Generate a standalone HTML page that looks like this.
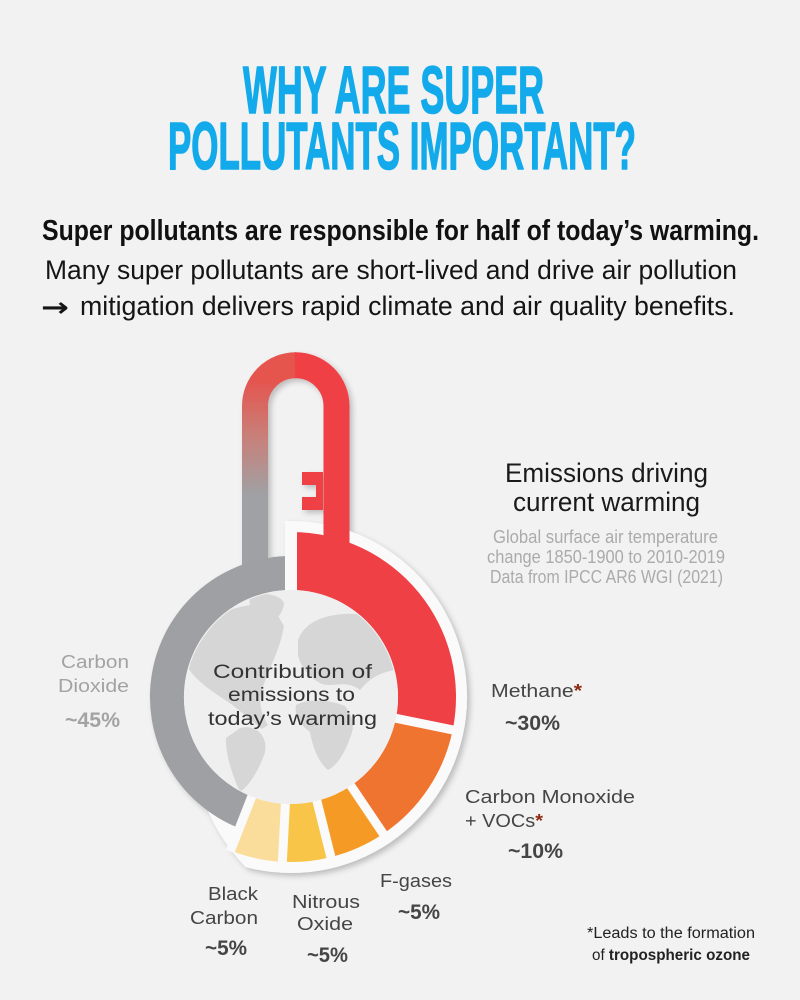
<!DOCTYPE html>
<html>
<head>
<meta charset="utf-8">
<style>
  html, body { margin: 0; padding: 0; background: #f2f2f2; }
  svg { display: block; }
  text { font-family: "Liberation Sans", "DejaVu Sans", sans-serif; }
</style>
</head>
<body>
<svg width="800" height="1000" viewBox="0 0 800 1000" xmlns="http://www.w3.org/2000/svg">
  <defs>
    <filter id="sh" x="-20%" y="-20%" width="150%" height="150%">
      <feDropShadow dx="3" dy="3" stdDeviation="3" flood-color="#000" flood-opacity="0.22"/>
    </filter>
    <linearGradient id="lg" gradientUnits="userSpaceOnUse" x1="0" y1="380" x2="0" y2="495">
      <stop offset="0" stop-color="#e5544e"/>
      <stop offset="0.5" stop-color="#c8807a"/>
      <stop offset="1" stop-color="#a0a1a4"/>
    </linearGradient>
    <clipPath id="inner"><circle cx="291" cy="697" r="106"/></clipPath>
  </defs>

  <rect x="0" y="0" width="800" height="1000" fill="#f2f2f2"/>

  <!-- Title -->
  <text x="243" y="113" font-size="67" font-weight="bold" fill="#12aaeb" stroke="#12aaeb" stroke-width="1.6" stroke-linejoin="round" textLength="301" lengthAdjust="spacingAndGlyphs">WHY ARE SUPER</text>
  <text x="168" y="169" font-size="67" font-weight="bold" fill="#12aaeb" stroke="#12aaeb" stroke-width="1.6" stroke-linejoin="round" textLength="468" lengthAdjust="spacingAndGlyphs">POLLUTANTS IMPORTANT?</text>

  <!-- Subtitles -->
  <text x="42" y="240" font-size="29" font-weight="bold" fill="#111" textLength="717" lengthAdjust="spacingAndGlyphs">Super pollutants are responsible for half of today’s warming.</text>
  <text x="45" y="279" font-size="27" fill="#151515" textLength="692" lengthAdjust="spacingAndGlyphs">Many super pollutants are short-lived and drive air pollution</text>
  <text x="41" y="316" font-size="26" font-weight="bold" fill="#151515" style="font-family:'DejaVu Sans',sans-serif" textLength="28" lengthAdjust="spacingAndGlyphs">→</text>
  <text x="80" y="315" font-size="27" fill="#151515" textLength="655" lengthAdjust="spacingAndGlyphs">mitigation delivers rapid climate and air quality benefits.</text>

  <!-- Thermometer underlay + tube (with shadow) -->
  <g filter="url(#sh)">
    <path d="M284.9,521.1 A176,176 0 1 1 245.5,867.0 Q220.9,840.8 208.1,811.1 L291,697 Z" fill="#fafafa"/>
    <circle cx="291" cy="697" r="141" fill="#fafafa"/>
    <path d="M255,570 L255,406 A40.75,40.75 0 0 1 295.75,365.25" fill="none" stroke="url(#lg)" stroke-width="26"/>
    <path d="M295,365.25 A40.75,40.75 0 0 1 336.5,406 L336.5,548" fill="none" stroke="#ee4045" stroke-width="26"/>
    <rect x="302" y="472" width="21" height="13" fill="#ee4045"/>
    <rect x="302" y="497" width="21" height="13" fill="#ee4045"/>
    <rect x="316" y="472" width="7" height="38" fill="#ee4045"/>
  </g>

  <!-- Segments -->
  <path d="M291,532 A165,165 0 0 1 452.7,729.9 L395.9,718.3 A107,107 0 0 0 291,590 Z" fill="#ee4045"/>
  <path d="M452.7,729.9 A165,165 0 0 1 383.3,833.8 L350.8,785.7 A107,107 0 0 0 395.9,718.3 Z" fill="#ef742f"/>
  <path d="M383.3,833.8 A165,165 0 0 1 330.9,857.1 L316.9,800.8 A107,107 0 0 0 350.8,785.7 Z" fill="#f59b25"/>
  <path d="M330.9,857.1 A165,165 0 0 1 282.4,861.8 L285.4,803.9 A107,107 0 0 0 316.9,800.8 Z" fill="#f8c548"/>
  <path d="M282.4,861.8 A165,165 0 0 1 230.5,850.5 L251.8,796.6 A107,107 0 0 0 285.4,803.9 Z" fill="#fbdd9b"/>
  <path d="M239.3,828.2 A141,141 0 0 1 291,556 L291,590 A107,107 0 0 0 251.8,796.6 Z" fill="#9fa0a3"/>

  <!-- Gaps -->
  <g stroke="#fafafa" stroke-linecap="butt">
    <line x1="291" y1="592" x2="291" y2="521.5" stroke-width="12"/>
    <line x1="393.9" y1="717.9" x2="459.5" y2="731.3" stroke-width="9"/>
    <line x1="349.7" y1="784.0" x2="387.2" y2="839.6" stroke-width="9"/>
    <line x1="316.4" y1="798.9" x2="332.6" y2="863.9" stroke-width="9"/>
    <line x1="285.5" y1="801.9" x2="282.0" y2="868.8" stroke-width="9"/>
    <line x1="252.5" y1="794.7" x2="230.2" y2="851.5" stroke-width="9"/>
  </g>

  <!-- Inner circle with world map -->
  <circle cx="291" cy="697" r="107" fill="#efefef"/>
  <g clip-path="url(#inner)" fill="#d6d6d7">
    <path d="M190,640 C205,615 245,600 272,606 L284,626 C280,650 270,665 262,690 C258,705 262,715 268,725 L262,729 C245,716 235,706 225,700 C210,690 195,680 186,665 Z"/>
    <path d="M250,596 C262,592 280,594 284,603 C283,616 272,624 262,624 C254,618 248,608 250,596 Z"/>
    <path d="M240,728 C255,724 268,735 265,752 C260,768 250,785 240,792 C232,775 225,752 226,738 Z"/>
    <path d="M298,640 C305,620 330,612 360,614 C380,615 395,625 399,640 L396,670 C380,672 370,678 360,690 C345,678 330,690 318,682 C308,676 300,665 298,655 Z"/>
    <path d="M296,705 C310,698 330,700 345,706 C352,715 356,725 350,738 C345,752 338,765 328,770 C318,762 312,745 310,732 C300,725 294,715 296,705 Z"/>
  </g>

  <!-- Center text -->
  <text x="213" y="678" font-size="19" fill="#333" textLength="159" lengthAdjust="spacingAndGlyphs">Contribution of</text>
  <text x="228" y="701" font-size="19" fill="#333" textLength="127" lengthAdjust="spacingAndGlyphs">emissions to</text>
  <text x="208" y="725" font-size="19" fill="#333" textLength="169" lengthAdjust="spacingAndGlyphs">today’s warming</text>

  <!-- Right heading -->
  <text x="505" y="482" font-size="27" fill="#1a1a1a" textLength="203" lengthAdjust="spacingAndGlyphs">Emissions driving</text>
  <text x="513" y="511" font-size="27" fill="#1a1a1a" textLength="187" lengthAdjust="spacingAndGlyphs">current warming</text>
  <text x="493" y="543" font-size="18" fill="#ababab" textLength="225" lengthAdjust="spacingAndGlyphs">Global surface air temperature</text>
  <text x="487" y="563" font-size="18" fill="#ababab" textLength="238" lengthAdjust="spacingAndGlyphs">change 1850-1900 to 2010-2019</text>
  <text x="490" y="583" font-size="18" fill="#ababab" textLength="233" lengthAdjust="spacingAndGlyphs">Data from IPCC AR6 WGI (2021)</text>

  <!-- Carbon Dioxide -->
  <text x="61" y="668" font-size="18" fill="#a3a3a3" textLength="68" lengthAdjust="spacingAndGlyphs">Carbon</text>
  <text x="58" y="692" font-size="18" fill="#a3a3a3" textLength="71" lengthAdjust="spacingAndGlyphs">Dioxide</text>
  <text x="65" y="727" font-size="21" font-weight="bold" fill="#a3a3a3" textLength="55" lengthAdjust="spacingAndGlyphs">~45%</text>

  <!-- Methane -->
  <text x="491" y="697" font-size="18" fill="#454545" textLength="91" lengthAdjust="spacingAndGlyphs">Methane<tspan fill="#8b2c12" font-weight="bold">*</tspan></text>
  <text x="505" y="730" font-size="21" font-weight="bold" fill="#454545" textLength="55" lengthAdjust="spacingAndGlyphs">~30%</text>

  <!-- Carbon Monoxide -->
  <text x="465" y="803" font-size="18" fill="#454545" textLength="170" lengthAdjust="spacingAndGlyphs">Carbon Monoxide</text>
  <text x="465" y="827" font-size="18" fill="#454545" textLength="78" lengthAdjust="spacingAndGlyphs">+ VOCs<tspan fill="#8b2c12" font-weight="bold">*</tspan></text>
  <text x="508" y="858" font-size="21" font-weight="bold" fill="#454545" textLength="55" lengthAdjust="spacingAndGlyphs">~10%</text>

  <!-- F-gases -->
  <text x="380" y="887" font-size="18" fill="#454545" textLength="72" lengthAdjust="spacingAndGlyphs">F-gases</text>
  <text x="398" y="919" font-size="21" font-weight="bold" fill="#454545" textLength="42" lengthAdjust="spacingAndGlyphs">~5%</text>

  <!-- Black Carbon -->
  <text x="208" y="900" font-size="18" fill="#454545" textLength="50" lengthAdjust="spacingAndGlyphs">Black</text>
  <text x="190" y="924" font-size="18" fill="#454545" textLength="68" lengthAdjust="spacingAndGlyphs">Carbon</text>
  <text x="205" y="955" font-size="21" font-weight="bold" fill="#454545" textLength="42" lengthAdjust="spacingAndGlyphs">~5%</text>

  <!-- Nitrous Oxide -->
  <text x="292" y="908" font-size="18" fill="#454545" textLength="68" lengthAdjust="spacingAndGlyphs">Nitrous</text>
  <text x="297" y="930" font-size="18" fill="#454545" textLength="56" lengthAdjust="spacingAndGlyphs">Oxide</text>
  <text x="307" y="962" font-size="21" font-weight="bold" fill="#454545" textLength="41" lengthAdjust="spacingAndGlyphs">~5%</text>

  <!-- Footnote -->
  <text x="587" y="938" font-size="15.5" fill="#222" textLength="168" lengthAdjust="spacingAndGlyphs">*Leads to the formation</text>
  <text x="592" y="960" font-size="15.5" fill="#222" textLength="158" lengthAdjust="spacingAndGlyphs">of <tspan font-weight="bold">tropospheric ozone</tspan></text>
</svg>
</body>
</html>
